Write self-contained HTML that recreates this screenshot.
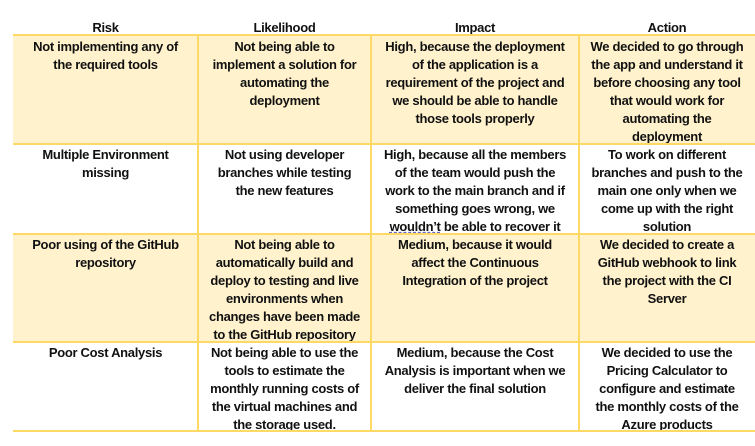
<!DOCTYPE html>
<html><head><style>
body{margin:0;width:755px;height:446px;background:#fff;position:relative;overflow:hidden;font-family:"Liberation Sans",sans-serif;font-weight:bold;font-size:13px;color:#111;}
.c{position:absolute;text-align:center;line-height:18px;box-sizing:border-box;padding:2px 0 0;white-space:nowrap;letter-spacing:-0.3px}
.y{background:#fff2cc}
.h{position:absolute;background:#ffd966;height:2px;left:13px;width:742px}
.v{position:absolute;background:#ffd966;width:2px}
</style></head><body>
<div class="c" style="left:13px;top:17px;width:185px">Risk</div>
<div class="c" style="left:198px;top:17px;width:173px">Likelihood</div>
<div class="c" style="left:371px;top:17px;width:208px">Impact</div>
<div class="c" style="left:579px;top:17px;width:176px">Action</div>

<div class="c y" style="left:13px;top:35px;width:742px;height:109px;padding:0"></div>
<div class="c y" style="left:13px;top:234px;width:742px;height:108px;padding:0"></div>

<div class="c" style="left:13px;top:36px;width:185px">Not implementing any of<br>the required tools</div>
<div class="c" style="left:198px;top:36px;width:173px">Not being able to<br>implement a solution for<br>automating the<br>deployment</div>
<div class="c" style="left:371px;top:36px;width:208px">High, because the deployment<br>of the application is a<br>requirement of the project and<br>we should be able to handle<br>those tools properly</div>
<div class="c" style="left:579px;top:36px;width:176px">We decided to go through<br>the app and understand it<br>before choosing any tool<br>that would work for<br>automating the<br>deployment</div>

<div class="c" style="left:13px;top:144px;width:185px">Multiple Environment<br>missing</div>
<div class="c" style="left:198px;top:144px;width:173px">Not using developer<br>branches while testing<br>the new features</div>
<div class="c" style="left:371px;top:144px;width:208px">High, because all the members<br>of the team would push the<br>work to the main branch and if<br>something goes wrong, we<br><span style="text-decoration:underline dashed #66c">wouldn’t</span> be able to recover it</div>
<div class="c" style="left:579px;top:144px;width:176px">To work on different<br>branches and push to the<br>main one only when we<br>come up with the right<br>solution</div>

<div class="c" style="left:13px;top:234px;width:185px">Poor using of the GitHub<br>repository</div>
<div class="c" style="left:198px;top:234px;width:173px">Not being able to<br>automatically build and<br>deploy to testing and live<br>environments when<br>changes have been made<br>to the GitHub repository</div>
<div class="c" style="left:371px;top:234px;width:208px">Medium, because it would<br>affect the Continuous<br>Integration of the project</div>
<div class="c" style="left:579px;top:234px;width:176px">We decided to create a<br>GitHub webhook to link<br>the project with the CI<br>Server</div>

<div class="c" style="left:13px;top:342px;width:185px">Poor Cost Analysis</div>
<div class="c" style="left:198px;top:342px;width:173px">Not being able to use the<br>tools to estimate the<br>monthly running costs of<br>the virtual machines and<br>the storage used.</div>
<div class="c" style="left:371px;top:342px;width:208px">Medium, because the Cost<br>Analysis is important when we<br>deliver the final solution</div>
<div class="c" style="left:579px;top:342px;width:176px">We decided to use the<br>Pricing Calculator to<br>configure and estimate<br>the monthly costs of the<br>Azure products</div>

<div class="h" style="top:34px"></div>
<div class="h" style="top:143px"></div>
<div class="h" style="top:233px"></div>
<div class="h" style="top:341px"></div>
<div class="h" style="top:430px"></div>
<div class="v" style="left:197px;top:35px;height:397px"></div>
<div class="v" style="left:370px;top:35px;height:397px"></div>
<div class="v" style="left:578px;top:35px;height:397px"></div>
</body></html>
